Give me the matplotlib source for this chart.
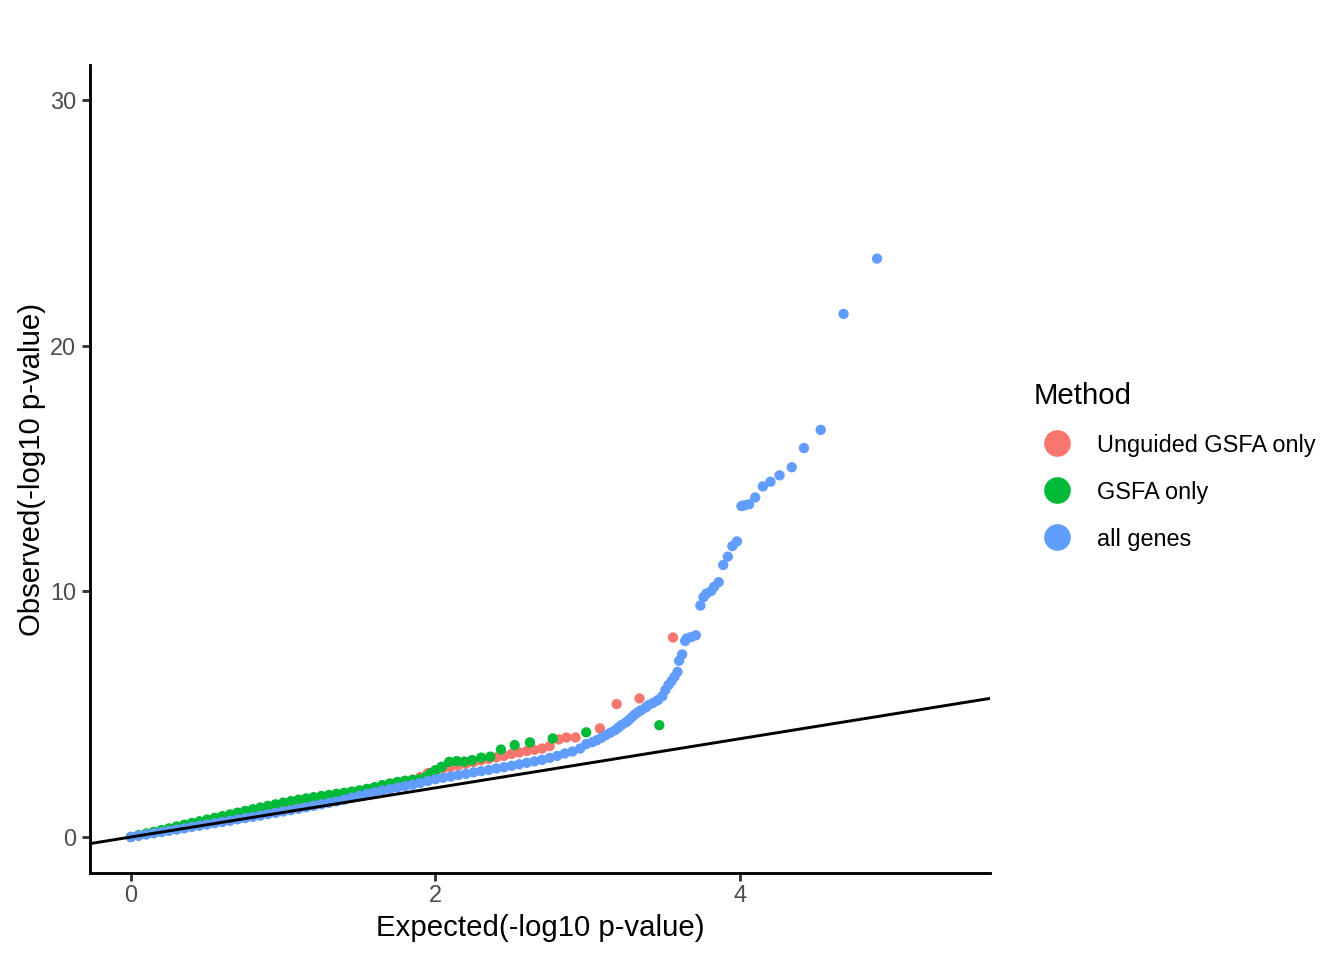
import matplotlib
matplotlib.use("Agg")
import matplotlib.pyplot as plt
from matplotlib.lines import Line2D

plt.rcParams["font.family"] = ["Liberation Sans", "DejaVu Sans"]

# Unguided GSFA only
red_exp = [0.00, 0.05, 0.10, 0.15, 0.20, 0.25, 0.30, 0.35, 0.40, 0.45,
           0.50, 0.55, 0.60, 0.65, 0.70, 0.75, 0.80, 0.85, 0.90, 0.95,
           1.00, 1.05, 1.10, 1.15, 1.20, 1.25, 1.30, 1.35, 1.40, 1.45,
           1.50, 1.55, 1.60, 1.65, 1.70, 1.75, 1.80, 1.85, 1.90, 1.95,
           2.00, 2.05, 2.10, 2.15, 2.20, 2.25, 2.30, 2.35, 2.40, 2.45,
           2.50, 2.55, 2.60, 2.65, 2.70, 2.75, 2.81, 2.86, 2.92, 3.08,
           3.19, 3.34, 3.56]
red_obs = [0.00, 0.06, 0.13, 0.19, 0.26, 0.32, 0.39, 0.45, 0.52, 0.58,
           0.65, 0.71, 0.78, 0.84, 0.91, 0.97, 1.04, 1.10, 1.17, 1.23,
           1.30, 1.36, 1.42, 1.48, 1.54, 1.60, 1.65, 1.70, 1.75, 1.80,
           1.85, 1.90, 1.95, 2.00, 2.06, 2.14, 2.24, 2.33, 2.44, 2.60,
           2.70, 2.78, 2.85, 2.91, 2.98, 3.05, 3.12, 3.18, 3.24, 3.30,
           3.38, 3.44, 3.50, 3.55, 3.60, 3.70, 3.97, 4.05, 4.05, 4.42,
           5.41, 5.64, 8.12]

# GSFA only
green_exp = [0.00, 0.05, 0.10, 0.15, 0.20, 0.25, 0.30, 0.35, 0.40, 0.45,
             0.50, 0.55, 0.60, 0.65, 0.70, 0.75, 0.80, 0.85, 0.90, 0.95,
             1.00, 1.05, 1.10, 1.15, 1.20, 1.25, 1.30, 1.35, 1.40, 1.45,
             1.50, 1.55, 1.60, 1.65, 1.70, 1.75, 1.80, 1.85, 1.90, 1.94,
             1.97, 2.00, 2.04, 2.09, 2.14, 2.19, 2.24, 2.30, 2.36, 2.43,
             2.52, 2.62, 2.77, 2.99, 3.47]
green_obs = [0.00, 0.07, 0.14, 0.21, 0.28, 0.35, 0.43, 0.50, 0.57, 0.64,
             0.71, 0.78, 0.85, 0.92, 0.99, 1.06, 1.13, 1.20, 1.27, 1.33,
             1.40, 1.46, 1.52, 1.57, 1.62, 1.67, 1.71, 1.76, 1.80, 1.85,
             1.90, 1.96, 2.03, 2.11, 2.18, 2.24, 2.29, 2.33, 2.37, 2.45,
             2.60, 2.72, 2.86, 3.06, 3.09, 3.07, 3.13, 3.23, 3.27, 3.56,
             3.74, 3.85, 4.01, 4.26, 4.55]

# all genes
blue_exp = [0.00, 0.05, 0.10, 0.15, 0.20, 0.25, 0.30, 0.35, 0.40, 0.45,
            0.50, 0.55, 0.60, 0.65, 0.70, 0.75, 0.80, 0.85, 0.90, 0.95,
            1.00, 1.05, 1.10, 1.15, 1.20, 1.25, 1.30, 1.35, 1.40, 1.45,
            1.50, 1.55, 1.60, 1.65, 1.70, 1.75, 1.80, 1.85, 1.90, 1.95,
            2.00, 2.05, 2.10, 2.15, 2.20, 2.25, 2.30, 2.35, 2.40, 2.45,
            2.50, 2.55, 2.60, 2.65, 2.70, 2.75, 2.80, 2.85, 2.90, 2.95,
            2.99, 3.03, 3.06, 3.09, 3.12, 3.15, 3.18, 3.20, 3.22, 3.25,
            3.27, 3.29, 3.31, 3.33, 3.35, 3.38, 3.40, 3.43, 3.46, 3.49,
            3.51, 3.53, 3.55, 3.57, 3.59, 3.60, 3.62, 3.64, 3.65, 3.68,
            3.71, 3.74, 3.76, 3.78, 3.81, 3.83, 3.86, 3.89, 3.92, 3.95,
            3.98, 4.01, 4.03, 4.06, 4.10, 4.15, 4.20, 4.26, 4.34, 4.42,
            4.53, 4.68, 4.90]
blue_obs = [0.00, 0.05, 0.10, 0.15, 0.20, 0.25, 0.30, 0.35, 0.41, 0.46,
            0.51, 0.56, 0.61, 0.66, 0.72, 0.77, 0.82, 0.87, 0.93, 0.98,
            1.04, 1.09, 1.15, 1.21, 1.27, 1.33, 1.39, 1.45, 1.52, 1.60,
            1.68, 1.75, 1.82, 1.89, 1.95, 2.01, 2.07, 2.13, 2.20, 2.28,
            2.35, 2.41, 2.46, 2.52, 2.57, 2.63, 2.68, 2.73, 2.79, 2.84,
            2.90, 2.96, 3.02, 3.08, 3.14, 3.22, 3.30, 3.40, 3.48, 3.60,
            3.78, 3.86, 3.94, 4.04, 4.15, 4.25, 4.35, 4.45, 4.55, 4.66,
            4.76, 4.88, 4.99, 5.08, 5.16, 5.27, 5.37, 5.46, 5.57, 5.73,
            5.98, 6.18, 6.34, 6.52, 6.72, 7.17, 7.43, 7.98, 8.08, 8.14,
            8.21, 9.42, 9.76, 9.91, 10.01, 10.18, 10.37, 11.07, 11.41, 11.84,
            12.03, 13.47, 13.50, 13.54, 13.82, 14.27, 14.46, 14.72, 15.05, 15.83,
            16.57, 21.29, 23.54]

methods = ["Unguided GSFA only", "GSFA only", "all genes"]
colors = ["#F8766D", "#00BA38", "#619CFF"]

fig = plt.figure(figsize=(7, 5), dpi=192)
ax = fig.add_axes([90 / 1344, 1 - 873 / 960, 900 / 1344, 808 / 960])

series = [(red_exp, red_obs), (green_exp, green_obs), (blue_exp, blue_obs)]
for (xs, ys), c in zip(series, colors):
    ax.scatter(xs, ys, s=15, color=c, edgecolors="none", zorder=2)

# y = x reference line
ax.axline((0, 0), slope=1, color="black", linewidth=1.1, zorder=3)

ax.set_xlim(-0.269, 5.642)
ax.set_ylim(-1.465, 31.42)
ax.set_xticks([0, 2, 4])
ax.set_yticks([0, 10, 20, 30])

for side in ["top", "right"]:
    ax.spines[side].set_visible(False)
for side in ["left", "bottom"]:
    ax.spines[side].set_linewidth(1.07)
ax.tick_params(length=2.9, width=1.07, color="#333333", labelsize=8.8,
               labelcolor="#4D4D4D")
ax.tick_params(axis="x", pad=1.3)
ax.tick_params(axis="y", pad=2.4)

ax.set_xlabel("Expected(-log10 p-value)", fontsize=11, labelpad=2.4)
ax.set_ylabel("Observed(-log10 p-value)", fontsize=11, labelpad=1.4)

handles = [Line2D([], [], marker="o", linestyle="", markersize=10,
                  markerfacecolor=c, markeredgecolor="none") for c in colors]
leg = fig.legend(handles, methods, title="Method", loc="upper left",
                 bbox_to_anchor=(1022 / 1344, 1 - 370 / 960), frameon=False,
                 fontsize=8.8, title_fontsize=11, labelspacing=1.02,
                 handletextpad=0.68, borderpad=0, alignment="left")

fig.savefig("out.png", dpi=192)
